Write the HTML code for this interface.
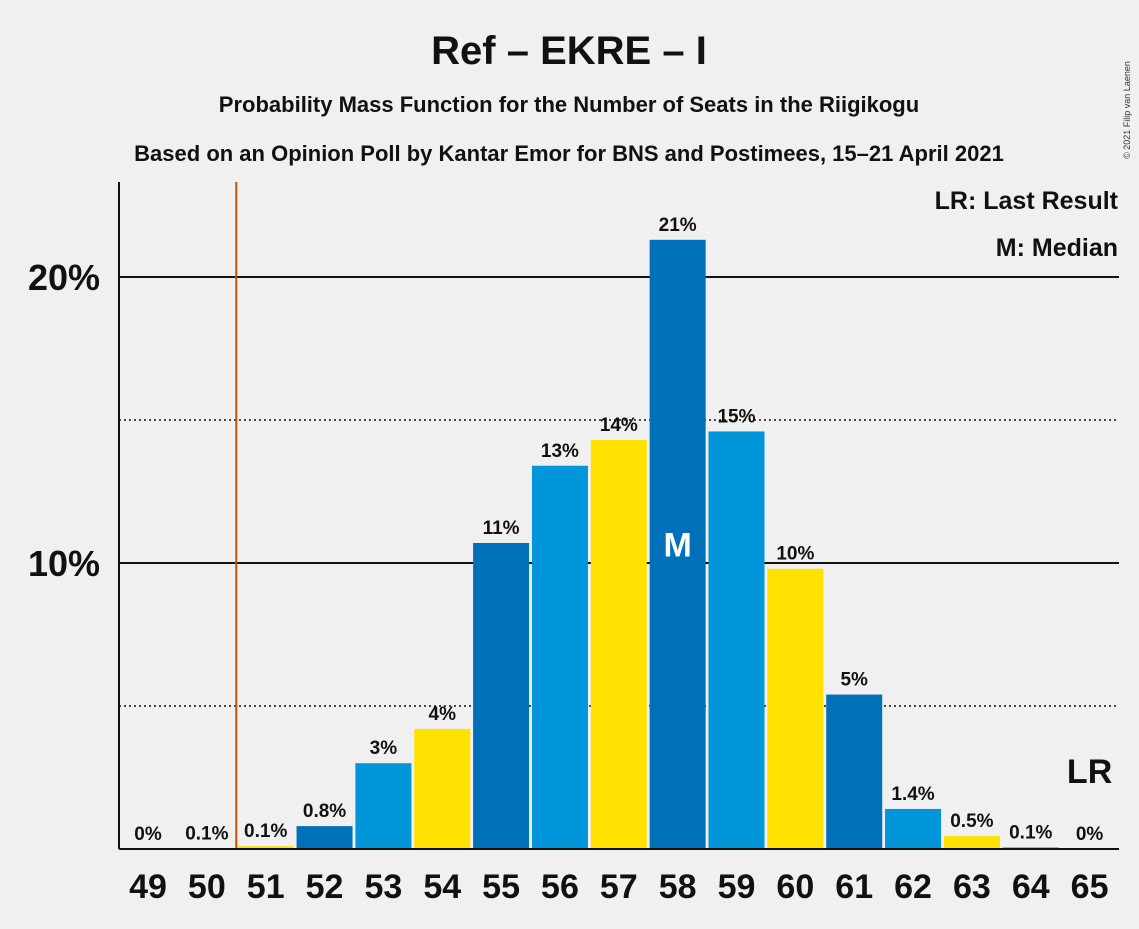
<!DOCTYPE html>
<html><head><meta charset="utf-8"><style>
body{margin:0;background:#f0f0f0;font-family:"Liberation Sans",sans-serif;}
svg text{font-family:"Liberation Sans",sans-serif;}
</style></head><body>
<svg id="c" width="1139" height="924" xmlns="http://www.w3.org/2000/svg">
<rect width="1139" height="924" fill="#f0f0f0"/>
<text x="569" y="64" text-anchor="middle" font-size="40" font-weight="bold" fill="#111">Ref – EKRE – I</text>
<text x="569" y="112" text-anchor="middle" font-size="22" font-weight="bold" fill="#111">Probability Mass Function for the Number of Seats in the Riigikogu</text>
<text x="569" y="161" text-anchor="middle" font-size="22" font-weight="bold" fill="#111">Based on an Opinion Poll by Kantar Emor for BNS and Postimees, 15–21 April 2021</text>
<text x="1130" y="110" font-size="9" fill="#333" transform="rotate(-90 1130 110)" text-anchor="middle">© 2021 Filip van Laenen</text>
<g id="grid"></g>
<g id="bars"></g>
<line x1="119" y1="182" x2="119" y2="849" stroke="#111" stroke-width="2"/>
<line x1="119" y1="849" x2="1119" y2="849" stroke="#111" stroke-width="2"/>
<rect x="930" y="182" width="190" height="80" fill="#f0f0f0"/>
<text x="1118" y="209" text-anchor="end" font-size="25" font-weight="bold" fill="#111">LR: Last Result</text>
<text x="1118" y="256" text-anchor="end" font-size="25" font-weight="bold" fill="#111">M: Median</text>
</svg>
<script>
const seats=[49,50,51,52,53,54,55,56,57,58,59,60,61,62,63,64,65];
const probs=[0,0.02,0.1,0.8,3.0,4.2,10.7,13.4,14.3,21.3,14.6,9.8,5.4,1.4,0.45,0.05,0];
const labels=["0%","0.1%","0.1%","0.8%","3%","4%","11%","13%","14%","21%","15%","10%","5%","1.4%","0.5%","0.1%","0%"];
const yTicks=[10,20];
const yMinor=[5,15];
const lastResult=65, lrLine=50.5, median=58;
const NS="http://www.w3.org/2000/svg";
const y=v=>849-v*28.6;
const x=s=>148+(s-49)*58.85;
const colors=["#0071b9","#0096d9","#ffe100"];
const grid=document.getElementById('grid'), bars=document.getElementById('bars');
function mk(tag,attrs,parent){const e=document.createElementNS(NS,tag);for(const k in attrs)e.setAttribute(k,attrs[k]);parent.appendChild(e);return e;}
yMinor.forEach(v=>{const l=mk('line',{x1:119,x2:1119,y1:y(v),y2:y(v),stroke:'#111','stroke-width':1.5,'stroke-dasharray':'2,3'},grid);

});
yTicks.forEach(v=>{const l=mk('line',{x1:119,x2:1119,y1:y(v),y2:y(v),stroke:'#111','stroke-width':2},grid);


const t=mk('text',{x:100,y:y(v)+13,'text-anchor':'end','font-size':36,'font-weight':'bold',fill:'#111'},grid);t.textContent=v+'%';

});
const lr=mk('line',{x1:x(lrLine),x2:x(lrLine),y1:182,y2:849,stroke:'#c85000','stroke-width':2},grid);


seats.forEach((s,i)=>{
 const p=probs[i];const top=y(p);
 const r=mk('rect',{x:x(s)-28,y:top,width:56,height:849-top,fill:colors[(s-49)%3]},bars);
 
 
 const t=mk('text',{x:x(s),y:top-9,'text-anchor':'middle','font-size':19,'font-weight':'bold',fill:'#111'},bars);t.textContent=labels[i];
 
 
 const xt=mk('text',{x:x(s),y:898,'text-anchor':'middle','font-size':34,'font-weight':'bold',fill:'#111'},bars);xt.textContent=s;
 
 
 if(s===median){const m=mk('text',{x:x(s),y:y(p/2)+12,'text-anchor':'middle','font-size':34,'font-weight':'bold',fill:'#fff'},bars);m.textContent='M';
 
 }
 if(s===lastResult){const m=mk('text',{x:x(s),y:y(p)-66,'text-anchor':'middle','font-size':34,'font-weight':'bold',fill:'#111'},bars);m.textContent='LR';
 
 }
});
</script>
</body></html>
